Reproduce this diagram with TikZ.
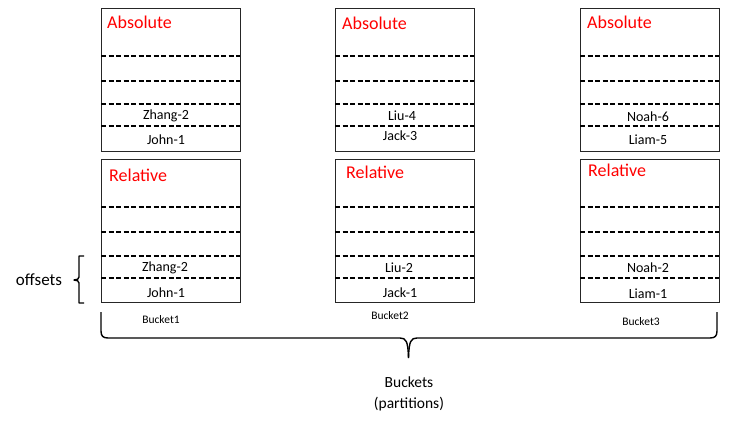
\documentclass[tikz,border=0pt]{standalone}
\usepackage{fontspec}
\setmainfont{Carlito}
\begin{document}
\begin{tikzpicture}[x=1pt,y=-1pt,
  bucketbox/.style={draw=black!85, line width=1pt, minimum width=139pt, minimum height=143pt, anchor=north west, inner sep=0pt},
  rowline/.style={dash pattern=on 5pt off 2.5pt, line width=1.4pt},
  kind/.style={text=red, font=\fontsize{18}{20}\selectfont, anchor=west, inner sep=0pt},
  cell/.style={font=\fontsize{14}{16}\selectfont, inner sep=0pt},
  blabel/.style={font=\fontsize{11.5}{13}\selectfont, inner sep=0pt},
  bigtext/.style={font=\fontsize{15.5}{21}\selectfont, align=center, inner sep=0pt},
  bracepath/.style={line width=1.4pt, line join=round}]
\useasboundingbox (0,0) rectangle (732,424);

% Bucket boxes
\foreach \i/\x in {1/101,2/335,3/580}{
  \node[bucketbox] (abs\i) at (\x,8) {};
  \node[bucketbox] (rel\i) at (\x,159) {};
  \foreach \yy in {56,81,104,126}
    \draw[rowline] (\x,\yy) -- ++(139,0);
  \foreach \yy in {207,232,256,278}
    \draw[rowline] (\x,\yy) -- ++(139,0);
}

% Titles
\node[kind] (absT1) at (107,22) {Absolute};
\node[kind] (absT2) at (342,23) {Absolute};
\node[kind] (absT3) at (587,22) {Absolute};
\node[kind] (relT1) at (109,175) {Relative};
\node[kind] (relT2) at (346,172) {Relative};
\node[kind] (relT3) at (588,170) {Relative};

% Cell contents
\node[cell] (c11) at (166,116) {Zhang-2};
\node[cell] (c12) at (166,140) {John-1};
\node[cell] (c21) at (402,116) {Liu-4};
\node[cell] (c22) at (400,136) {Jack-3};
\node[cell] (c31) at (648,117) {Noah-6};
\node[cell] (c32) at (648,140) {Liam-5};
\node[cell] (r11) at (165,268) {Zhang-2};
\node[cell] (r12) at (166,293) {John-1};
\node[cell] (r21) at (399,268) {Liu-2};
\node[cell] (r22) at (400,293) {Jack-1};
\node[cell] (r31) at (648,268) {Noah-2};
\node[cell] (r32) at (648,294) {Liam-1};

% Bucket labels
\node[blabel] (b1) at (161,320) {Bucket1};
\node[blabel] (b2) at (390,316) {Bucket2};
\node[blabel] (b3) at (641,322) {Bucket3};

% offsets brace
\node[font=\fontsize{17}{19}\selectfont, inner sep=0pt] (off) at (39,280) {offsets};
\draw[bracepath] (84,256) -- (79,256) -- (79,277) .. controls (79,279) and (77,280) .. (74,280)
  .. controls (77,280) and (79,281) .. (79,283) -- (79,303) -- (84,303);

% big brace
\draw[bracepath] (101,312) -- (101,331) .. controls (101,336) and (103,338) .. (108,338)
  -- (400,338) .. controls (406,338) and (408,341) .. (408.5,358);
\draw[bracepath] (717,312) -- (717,331) .. controls (717,336) and (715,338) .. (710,338)
  -- (417,338) .. controls (411,338) and (409,341) .. (408.5,358);

\node[bigtext] (bk) at (409,394) {Buckets\\(partitions)};
\end{tikzpicture}
\end{document}
